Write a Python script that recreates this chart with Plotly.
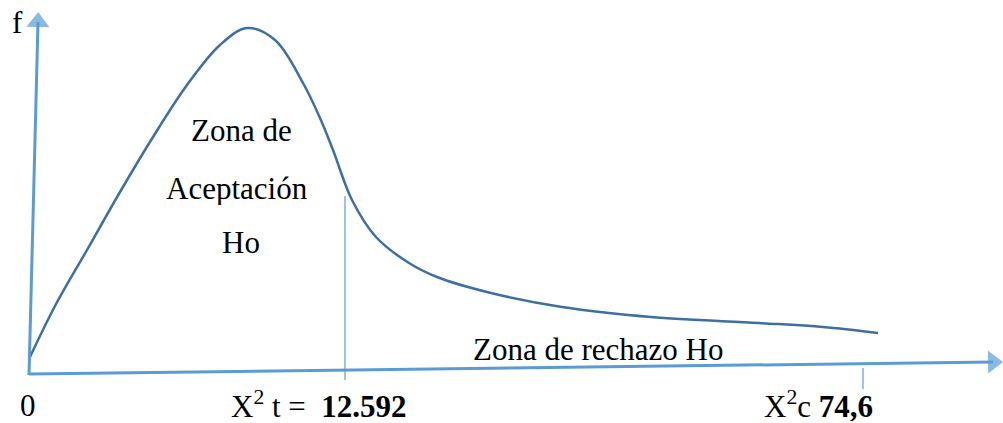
import plotly.graph_objects as go

# Diagram units (schematic chi-square density, drawn in a 1003 x 423 canvas space)
curve_x = [30, 55, 87, 120, 153, 187, 220, 247, 275, 303, 320, 333, 352, 376, 409, 437, 491, 562, 651, 759, 823, 878]
curve_y = [357, 306, 250, 192, 137, 85, 45, 28, 40, 83, 118, 150, 200, 237, 263, 277, 293, 307, 317, 323, 327, 333]

# axis paths: start -> arrowhead centre
yaxis_x = [29, 38]
yaxis_y = [375, 22]
xaxis_x = [29, 993]
xaxis_y = [374, 362]

# critical value line and tick
crit_line_x = [345, 345]
crit_line_y = [196, 380]
calc_tick_x = [863, 863]
calc_tick_y = [368, 389]

# labels: (text, x, y)
labels = [
    ("f", 17, 22),
    ("Zona de", 241, 130),
    ("Aceptación", 237, 188),
    ("Ho", 241, 242),
    ("Zona de rechazo Ho", 598, 349),
    ("0", 28, 405),
    ("X<sup>2</sup> t =\u00a0\u00a0<b>12.592</b>", 319, 404),
    ("X<sup>2</sup>c <b>74,6</b>", 818, 404),
]

axis_color = "#5B9BD5"
curve_color = "#3E6FA3"

fig = go.Figure()
fig.add_trace(go.Scatter(x=curve_x, y=curve_y, mode="lines",
                         line=dict(color=curve_color, width=2.5, shape="spline", smoothing=1.0),
                         hoverinfo="skip", showlegend=False))
fig.add_trace(go.Scatter(x=crit_line_x, y=crit_line_y, mode="lines",
                         line=dict(color=axis_color, width=1.2),
                         hoverinfo="skip", showlegend=False))
fig.add_trace(go.Scatter(x=calc_tick_x, y=calc_tick_y, mode="lines",
                         line=dict(color=axis_color, width=1.2),
                         hoverinfo="skip", showlegend=False))

for ax_x, ax_y in [(yaxis_x, yaxis_y), (xaxis_x, xaxis_y)]:
    fig.add_trace(go.Scatter(x=ax_x, y=ax_y, mode="lines+markers",
                             line=dict(color=axis_color, width=3),
                             marker=dict(symbol="triangle-up", size=[0, 20], color=axis_color,
                                         angleref="previous", line=dict(width=0)),
                             hoverinfo="skip", showlegend=False))

for txt, x, y in labels:
    fig.add_annotation(x=x, y=y, xref="x", yref="y", text=txt, showarrow=False,
                       xanchor="center", yanchor="middle", height=34, valign="middle",
                       font=dict(family="Liberation Serif, Times New Roman, serif", size=31, color="black"))

fig.update_xaxes(range=[0, 1003], visible=False, showgrid=False, zeroline=False, fixedrange=True)
fig.update_yaxes(range=[423, 0], visible=False, showgrid=False, zeroline=False, fixedrange=True)
fig.update_layout(width=1003, height=423, margin=dict(l=0, r=0, t=0, b=0),
                  paper_bgcolor="white", plot_bgcolor="white")

fig.write_html("out.html", config={"displayModeBar": False},
               post_script="document.body.style.margin='0';document.body.style.padding='0';")
